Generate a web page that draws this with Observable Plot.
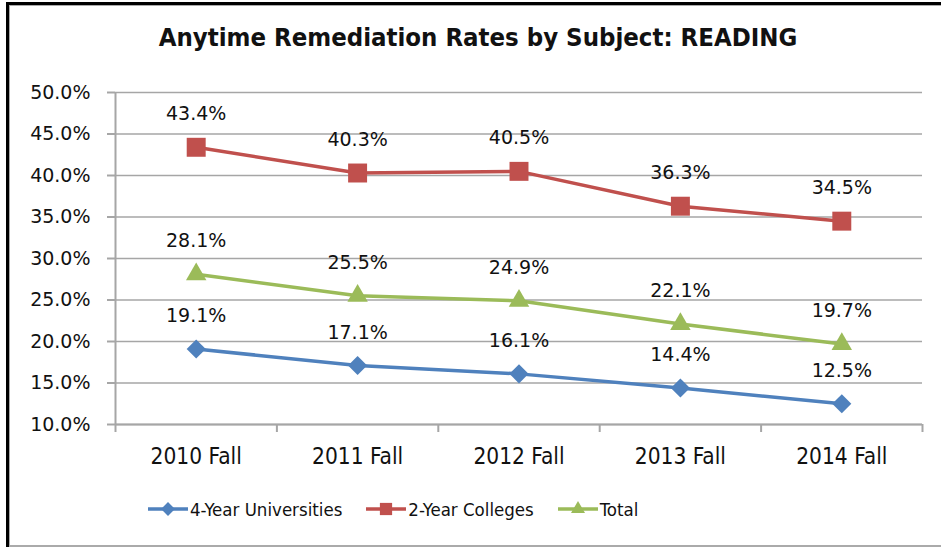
<!DOCTYPE html>
<html>
<head>
<meta charset="utf-8">
<script src="https://cdn.jsdelivr.net/npm/d3@7"></script>
<script src="https://cdn.jsdelivr.net/npm/@observablehq/plot@0.6"></script>
<style>
  html, body { margin: 0; padding: 0; background: #fff; }
  #wrap { position: relative; width: 941px; height: 547px; overflow: hidden; background: #fff; }
  #bL { position: absolute; left: 6px; top: 2px; width: 3px; height: 545px; background: #000; }
  #bL2 { position: absolute; left: 9px; top: 5px; width: 1px; height: 542px; background: #aaa; }
  #bT { position: absolute; left: 6px; top: 2px; width: 935px; height: 3px; background: #000; }
  #bT2 { position: absolute; left: 9px; top: 5px; width: 932px; height: 1px; background: #aaa; }
  #bB { position: absolute; left: 9px; top: 545px; width: 932px; height: 2px; background: #aaa; }
  #title { position: absolute; left: 15px; right: 0; top: 22px; text-align: center;
    font-family: "DejaVu Sans Condensed", "DejaVu Sans", sans-serif; font-stretch: condensed;
    font-weight: bold; font-size: 25.5px; line-height: 30px; color: #111; }
  #chart { position: absolute; left: 0; top: 75px; }
  #legend { position: absolute; left: 148px; top: 498px; display: flex; align-items: center;
    font-family: "DejaVu Sans Condensed", "DejaVu Sans", sans-serif; font-stretch: condensed;
    font-size: 18.5px; color: #111; white-space: nowrap; }
  #legend .item { display: flex; align-items: center; margin-right: 24px; }
  #legend svg { display: block; margin-right: 2px; }
</style>
</head>
<body>
<div id="wrap">
  <div id="bL"></div><div id="bL2"></div><div id="bT"></div><div id="bT2"></div><div id="bB"></div>
  <div id="title">Anytime Remediation Rates by Subject: READING</div>
  <div id="chart"></div>
  <div id="legend"></div>
</div>
<script>
// ---- data ----
const categories = ["2010 Fall", "2011 Fall", "2012 Fall", "2013 Fall", "2014 Fall"];
const seriesNames = ["4-Year Universities", "2-Year Colleges", "Total"];
const fourYear = [19.1, 17.1, 16.1, 14.4, 12.5];
const twoYear = [43.4, 40.3, 40.5, 36.3, 34.5];
const total = [28.1, 25.5, 24.9, 22.1, 19.7];
const yTicks = [10, 15, 20, 25, 30, 35, 40, 45, 50];

// ---- styles ----
const colors = ["#4f81bd", "#c0504d", "#9bbb59"];
const symbols = ["diamond2", "square", "triangle"];
const radii = [8.6, 10.7, 7.6];
const gridColor = "#a6a6a6";
const textColor = "#111";

const seriesValues = [fourYear, twoYear, total];
const rows = [];
seriesValues.forEach((vals, s) => vals.forEach((v, i) => rows.push({series: seriesNames[s], idx: i, value: v})));
const boundaries = d3.range(categories.length + 1).map(i => i - 0.5);
const pct = d => d.toFixed(1) + "%";

const marks = [
  Plot.ruleY(yTicks, {stroke: gridColor, strokeWidth: 1.5}),
  Plot.ruleX([boundaries[0]], {stroke: gridColor, strokeWidth: 2}),
  Plot.ruleY([yTicks[0]], {stroke: gridColor, strokeWidth: 2}),
  Plot.axisY({ticks: yTicks, tickSize: 8, tickPadding: 17, tickFormat: pct, label: null,
    stroke: gridColor, strokeWidth: 2, fill: textColor,
    fontSize: 19, fontFamily: "DejaVu Sans, sans-serif"}),
  Plot.axisX({ticks: boundaries, tickSize: 8, tickFormat: () => "", label: null, stroke: gridColor, strokeWidth: 2}),
  Plot.axisX({ticks: d3.range(categories.length), tickSize: 0, tickPadding: 24, label: null,
    tickFormat: i => categories[i], fill: textColor,
    fontSize: 22.5, fontFamily: "DejaVu Sans Condensed, DejaVu Sans, sans-serif"})
];
seriesNames.forEach((name, s) => {
  const data = rows.filter(r => r.series === name);
  marks.push(Plot.line(data, {x: "idx", y: "value", stroke: colors[s], strokeWidth: 3.5}));
});
seriesNames.forEach((name, s) => {
  const data = rows.filter(r => r.series === name);
  marks.push(Plot.dot(data, {x: "idx", y: "value", symbol: () => symbols[s], r: radii[s], fill: colors[s], stroke: "none"}));
  marks.push(Plot.text(data, {x: "idx", y: "value", text: d => pct(d.value), dy: -33, fill: textColor,
    fontSize: 19, fontFamily: "DejaVu Sans, sans-serif"}));
});

const chart = Plot.plot({
  width: 941,
  height: 400,
  marginTop: 17,
  marginBottom: 51,
  marginLeft: 115,
  marginRight: 19,
  x: {type: "linear", domain: [boundaries[0], boundaries[boundaries.length - 1]], axis: null, label: null},
  y: {domain: [yTicks[0], yTicks[yTicks.length - 1]], axis: null, label: null},
  symbol: {type: "identity"},
  style: {background: "transparent", color: textColor, overflow: "visible"},
  marks
});
document.getElementById("chart").appendChild(chart);

// ---- legend ----
const legend = document.getElementById("legend");
const legendR = [6.2, 6.9, 5.2];
seriesNames.forEach((name, s) => {
  const item = document.createElement("div");
  item.className = "item";
  const sym = d3.symbol(d3["symbol" + {diamond2: "Diamond2", square: "Square", triangle: "Triangle"}[symbols[s]]], Math.PI * legendR[s] * legendR[s])();
  item.innerHTML = `<svg width="40" height="22"><line x1="0" x2="40" y1="11" y2="11" stroke="${colors[s]}" stroke-width="3.5"/><path d="${sym}" transform="translate(20,11)" fill="${colors[s]}"/></svg><span>${name}</span>`;
  legend.appendChild(item);
});
</script>
</body>
</html>
